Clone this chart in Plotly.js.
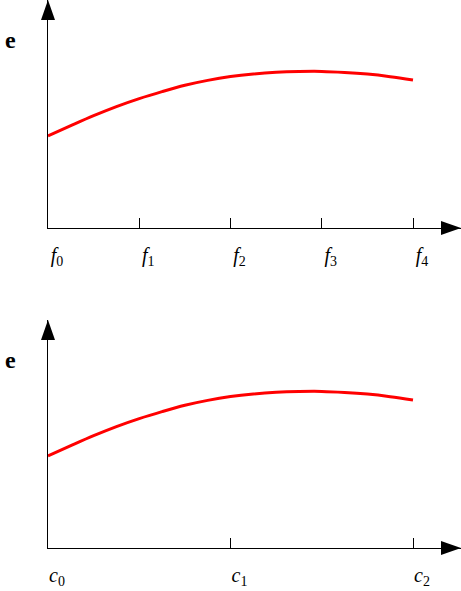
<!DOCTYPE html>
<html>
<head>
<meta charset="utf-8">
<script src="https://cdn.plot.ly/plotly-3.0.1.min.js"></script>
<style>html,body{margin:0;padding:0;background:#fff}</style>
</head>
<body>
<div id="chart" style="width:461px;height:591px"></div>
<script>
// top panel: error over the fine grid f0..f4
var fTicks = [0, 1, 2, 3, 4];
var fLabels = ['<i>f</i><sub>0</sub>', '<i>f</i><sub>1</sub>', '<i>f</i><sub>2</sub>', '<i>f</i><sub>3</sub>', '<i>f</i><sub>4</sub>'];
var fX = [0, 0.25, 0.5, 0.75, 1, 1.25, 1.5, 1.75, 2, 2.25, 2.5, 2.75, 3, 3.25, 3.5, 3.75, 4];
var eTop = [92, 102.3, 112.3, 121.4, 129.4, 136.4, 142.7, 147.6, 151.4, 154, 155.7, 156.5, 156.6, 155.6, 153.9, 151.3, 148];

// bottom panel: same error over the coarse grid c0..c2
var cTicks = [0, 1, 2];
var cLabels = ['<i>c</i><sub>0</sub>', '<i>c</i><sub>1</sub>', '<i>c</i><sub>2</sub>'];
var cX = [0, 0.125, 0.25, 0.375, 0.5, 0.625, 0.75, 0.875, 1, 1.125, 1.25, 1.375, 1.5, 1.625, 1.75, 1.875, 2];
var eBottom = [92, 102.3, 112.3, 121.4, 129.4, 136.4, 142.7, 147.6, 151.4, 154, 155.7, 156.5, 156.6, 155.6, 153.9, 151.3, 148];

var W = 461, H = 591;
function px(x) { return x / W; }
function py(y) { return 1 - y / H; }

var serif = 'Liberation Serif, DejaVu Serif, serif';

var line = {color: '#ff0000', width: 3, shape: 'spline'};
var data = [
  {x: fX, y: eTop, xaxis: 'x', yaxis: 'y', type: 'scatter', mode: 'lines', line: line, hoverinfo: 'none'},
  {x: cX, y: eBottom, xaxis: 'x2', yaxis: 'y2', type: 'scatter', mode: 'lines', line: line, hoverinfo: 'none'}
];

// axis with labels and the upward half of each tick
function xAxis(range, vals, text, anchor) {
  return {
    domain: [px(48), 1], range: range, anchor: anchor,
    showgrid: false, zeroline: false,
    showline: true, linecolor: '#000', linewidth: 1.2,
    tickmode: 'array', tickvals: vals, ticktext: text,
    ticks: 'inside', ticklen: 10, tickwidth: 1, tickcolor: '#000',
    ticklabelshift: 9, ticklabelstandoff: 9,
    tickfont: {family: serif, size: 20, color: '#000'}
  };
}
// downward half of each tick
function xOutside(range, vals, over, anchor) {
  return {
    overlaying: over, anchor: anchor, range: range, side: 'bottom',
    showgrid: false, zeroline: false, showline: false, showticklabels: false,
    tickmode: 'array', tickvals: vals,
    ticks: 'outside', ticklen: 12, tickwidth: 1, tickcolor: '#000'
  };
}
function yAxis(dom, anchor) {
  return {
    domain: dom, range: [0, 228], anchor: anchor,
    showgrid: false, zeroline: false, showticklabels: false, ticks: '',
    showline: true, linecolor: '#000', linewidth: 1.2
  };
}

var fRange = [0, (W - 48) / 91.25];
var cRange = [0, (W - 48) / 182.5];

function tri(pts) {
  return {
    type: 'path', xref: 'paper', yref: 'paper', line: {width: 0}, fillcolor: '#000',
    path: 'M' + pts.map(function (p) { return px(p[0]) + ',' + py(p[1]); }).join('L') + 'Z'
  };
}

var layout = {
  width: W, height: H,
  margin: {l: 0, r: 0, t: 0, b: 0},
  paper_bgcolor: '#fff', plot_bgcolor: 'rgba(0,0,0,0)',
  showlegend: false,
  xaxis: xAxis(fRange, fTicks, fLabels, 'y'),
  yaxis: yAxis([py(228), 1], 'x'),
  xaxis2: xAxis(cRange, cTicks, cLabels, 'y2'),
  yaxis2: yAxis([py(548), py(320)], 'x2'),
  xaxis3: xOutside(fRange, fTicks, 'x', 'y'),
  xaxis4: xOutside(cRange, cTicks, 'x2', 'y2'),
  shapes: [
    tri([[41, 20], [48, 0], [55, 20]]),
    tri([[441, 221], [461, 228], [441, 235]]),
    tri([[41, 340], [48, 320], [55, 340]]),
    tri([[441, 541], [461, 548], [441, 555]])
  ],
  annotations: [
    {text: '<b>e</b>', xref: 'paper', yref: 'y domain', x: px(3), y: 1 - 40 / 228,
     xanchor: 'left', yanchor: 'middle', showarrow: false,
     font: {family: serif, size: 24, color: '#000'}},
    {text: '<b>e</b>', xref: 'paper', yref: 'y2 domain', x: px(3), y: 1 - 40 / 228,
     xanchor: 'left', yanchor: 'middle', showarrow: false,
     font: {family: serif, size: 24, color: '#000'}}
  ]
};

Plotly.newPlot('chart', data, layout, {staticPlot: true, displayModeBar: false});
</script>
</body>
</html>
